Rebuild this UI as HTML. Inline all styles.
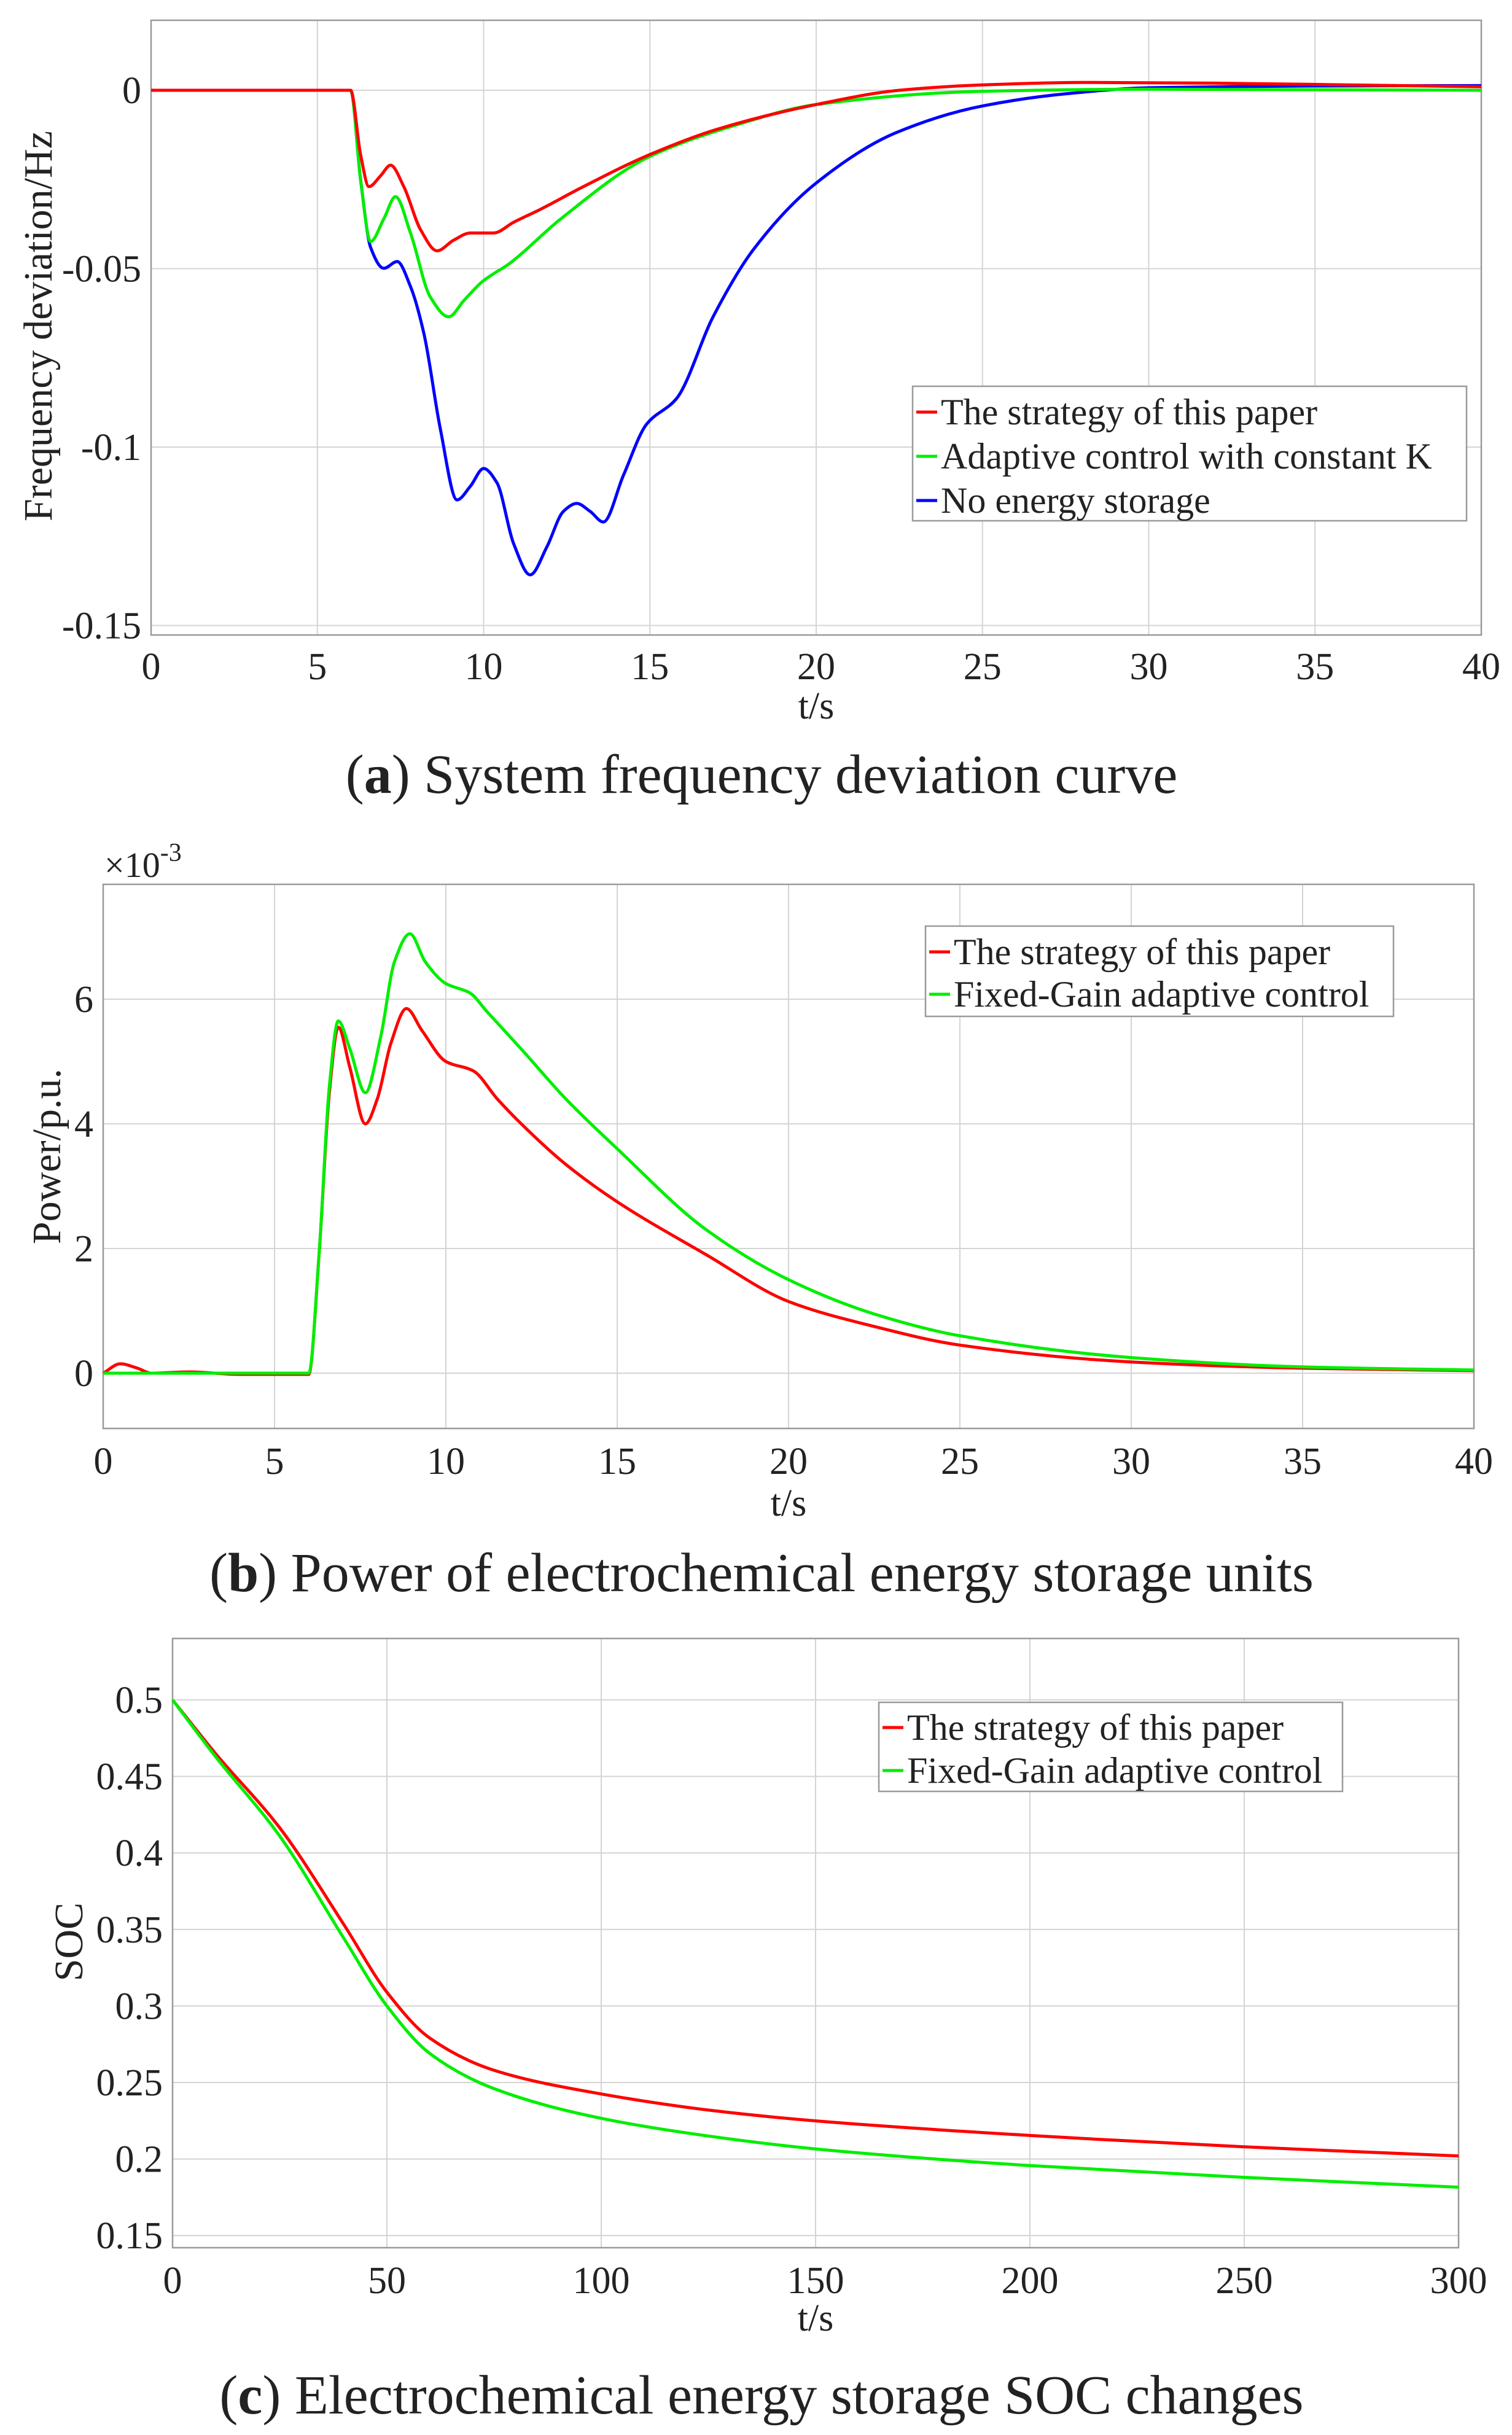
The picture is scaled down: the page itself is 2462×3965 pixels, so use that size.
<!DOCTYPE html>
<html><head><meta charset="utf-8"><style>
html,body{margin:0;padding:0;background:#fff;}
svg{display:block;}
text{font-family:"Liberation Serif","Times New Roman",serif;fill:#222;}
</style></head><body>
<svg id="fig" width="2462" height="3965" viewBox="0 0 2462 3965" xmlns="http://www.w3.org/2000/svg"></svg>
<script>
// ---------- Chart (a) data ----------
const aRedT=[0,6,6.3,6.55,6.9,7.2,7.6,8.1,8.6,9.1,9.6,10.3,10.9,11.7,13,15,17,20,22.5,25,28,32,36,40];
const aRedV=[0,0,-0.018,-0.027,-0.024,-0.021,-0.027,-0.039,-0.045,-0.042,-0.040,-0.040,-0.037,-0.0334,-0.027,-0.018,-0.011,-0.004,0,0.0015,0.0022,0.002,0.0015,0.001];
const aGreenT=[0,6,6.3,6.6,7,7.35,7.8,8.4,8.95,9.4,9.95,10.8,12.3,14.9,17.5,20,25,30,40];
const aGreenV=[0,0,-0.025,-0.0424,-0.036,-0.0298,-0.040,-0.058,-0.0635,-0.059,-0.0537,-0.0484,-0.0362,-0.019,-0.01,-0.004,-0.0003,0.0003,0];
const aBlueT=[0,6,6.3,6.6,7,7.4,7.8,8.2,8.7,9.2,9.6,10,10.4,10.9,11.4,11.9,12.4,12.8,13.2,13.6,14.2,14.9,15.8,16.9,18.1,20,22.4,25,27.5,30,35,40];
const aBlueV=[0,0,-0.025,-0.044,-0.0499,-0.048,-0.055,-0.068,-0.095,-0.1148,-0.111,-0.106,-0.110,-0.127,-0.1358,-0.128,-0.118,-0.1158,-0.118,-0.121,-0.108,-0.0936,-0.0864,-0.0635,-0.0448,-0.026,-0.0119,-0.0044,-0.001,0.0007,0.0012,0.0013];
const aXTicks=[0,5,10,15,20,25,30,35,40];
const aYTicks=[0,-0.05,-0.1,-0.15];
const aYLabels=["0","-0.05","-0.1","-0.15"];
const aLegend=["The strategy of this paper","Adaptive control with constant K","No energy storage"];
// ---------- Chart (b) data ----------
const bRedT=[0,0.5,1,1.4,2.5,4,6,6.3,6.6,6.86,7.2,7.65,8,8.4,8.85,9.3,10,10.8,11.5,12.2,13.5,15,17.6,20,22.5,25,30,35,40];
const bRedV=[0,0.15,0.08,0,0.02,-0.02,-0.02,1.9,4.5,5.55,4.9,4.0,4.4,5.3,5.85,5.5,5.0,4.85,4.4,4.0,3.35,2.75,1.9,1.15,0.75,0.45,0.18,0.08,0.04];
const bGreenT=[0,6,6.3,6.6,6.86,7.2,7.65,8.1,8.5,8.95,9.4,10,10.7,11.2,12.2,13.5,15,17.6,20,22.5,25,30,35,40];
const bGreenV=[0,0,1.9,4.6,5.65,5.2,4.5,5.4,6.6,7.05,6.6,6.25,6.1,5.8,5.2,4.4,3.6,2.3,1.5,0.95,0.6,0.25,0.1,0.05];
const bXTicks=[0,5,10,15,20,25,30,35,40];
const bYTicks=[0,2,4,6];
const bLegend=["The strategy of this paper","Fixed-Gain adaptive control"];
// ---------- Chart (c) data ----------
const cRedT=[0,10,25,40,50,60,75,100,125,150,200,250,300];
const cRedV=[0.5,0.465,0.4164,0.353,0.309,0.279,0.258,0.2425,0.232,0.2249,0.2154,0.208,0.202];
const cGreenT=[0,10,25,40,50,60,75,100,125,150,200,250,300];
const cGreenV=[0.5,0.463,0.411,0.344,0.300,0.269,0.246,0.2266,0.215,0.2066,0.1957,0.188,0.1816];
const cXTicks=[0,50,100,150,200,250,300];
const cYTicks=[0.5,0.45,0.4,0.35,0.3,0.25,0.2,0.15];
const cLegend=["The strategy of this paper","Fixed-Gain adaptive control"];

const NS="http://www.w3.org/2000/svg";
const svg=document.getElementById('fig');
function el(tag,attrs,parent){const e=document.createElementNS(NS,tag);for(const k in attrs)e.setAttribute(k,attrs[k]);(parent||svg).appendChild(e);return e;}
function txt(s,attrs,parent){const e=el('text',attrs,parent);e.textContent=s;return e;}

function monoPath(xs,ys){
  const n=xs.length;if(n<2)return '';
  const d=[],m=new Array(n);
  for(let i=0;i<n-1;i++)d.push((ys[i+1]-ys[i])/(xs[i+1]-xs[i]));
  m[0]=d[0];m[n-1]=d[n-2];
  for(let i=1;i<n-1;i++){if(d[i-1]*d[i]<=0)m[i]=0;else{const h0=xs[i]-xs[i-1],h1=xs[i+1]-xs[i];const w1=2*h1+h0,w2=h1+2*h0;m[i]=(w1+w2)/(w1/d[i-1]+w2/d[i]);}}
  let p='M'+xs[0].toFixed(1)+','+ys[0].toFixed(1);
  for(let i=0;i<n-1;i++){const h=(xs[i+1]-xs[i])/3;
    p+='C'+(xs[i]+h).toFixed(1)+','+(ys[i]+m[i]*h).toFixed(1)+' '+(xs[i+1]-h).toFixed(1)+','+(ys[i+1]-m[i+1]*h).toFixed(1)+' '+xs[i+1].toFixed(1)+','+ys[i+1].toFixed(1);}
  return p;
}

function chart(cfg){
  const g=el('g',{});
  
  
  const X=v=>cfg.L+(v-cfg.x0)/(cfg.x1-cfg.x0)*(cfg.R-cfg.L);
  const Y=v=>cfg.yRef+(v-cfg.vRef)*cfg.pxPer;
  const bg=el('rect',{x:cfg.L,y:cfg.T,width:cfg.R-cfg.L,height:cfg.B-cfg.T,fill:'#fff'},g);
  
  
  cfg.xt.forEach(v=>{const l=el('line',{x1:X(v),x2:X(v),y1:cfg.T,y2:cfg.B,stroke:'#d4d4d4','stroke-width':2},g);
    
    });
  cfg.yt.forEach(v=>{const l=el('line',{x1:cfg.L,x2:cfg.R,y1:Y(v),y2:Y(v),stroke:'#d4d4d4','stroke-width':2},g);
    
    });
  const fr=el('rect',{x:cfg.L,y:cfg.T,width:cfg.R-cfg.L,height:cfg.B-cfg.T,fill:'none',stroke:'#9a9a9a','stroke-width':2.5},g);
  
  
  cfg.xt.forEach(v=>{const t=txt(String(v),{x:X(v),y:cfg.xLabY,'font-size':62,'text-anchor':'middle'},g);
    
    });
  cfg.yt.forEach((v,i)=>{const t=txt(cfg.yl?cfg.yl[i]:String(v),{x:cfg.L-16,y:Y(v)+21,'font-size':62,'text-anchor':'end'},g);
    
    });
  const xt=txt('t/s',{x:(cfg.L+cfg.R)/2,y:cfg.xTitleY,'font-size':62,'text-anchor':'middle'},g);
  
  
  const yt=txt(cfg.ytitle,{x:0,y:0,'font-size':cfg.ytSize||62,'text-anchor':'middle',transform:'translate('+cfg.ytX+','+cfg.ytY+') rotate(-90)'},g);
  
  
  cfg.series.forEach(s=>{
    const p=el('path',{d:monoPath(s.t.map(X),s.v.map(Y)),fill:'none',stroke:s.c,'stroke-width':5,'stroke-linejoin':'round'},g);
    
    
  });
  const lg=el('g',{},g);
  
  
  const L=cfg.leg;
  el('rect',{x:L.x,y:L.y,width:L.w,height:L.h,fill:'#fff',stroke:'#9a9a9a','stroke-width':2.5},lg);
  cfg.legText.forEach((s,i)=>{
    const cy=L.rows[i];
    el('line',{x1:L.x+6,x2:L.x+40,y1:cy,y2:cy,stroke:cfg.legColors[i],'stroke-width':5},lg);
    const t=txt(s,{x:L.x+46,y:cy+20,'font-size':60},lg);
    
    
  });
  const cap=txt('',{x:cfg.capX,y:cfg.capY,'font-size':90,'text-anchor':'middle'},g);
  
  
  const t1=el('tspan',{},cap);t1.textContent='(';
  const t2=el('tspan',{'font-weight':'bold'},cap);t2.textContent=cfg.capLetter;
  const t3=el('tspan',{},cap);t3.textContent=') '+cfg.capText;
  return g;
}

chart({name:'chart-frequency-deviation',L:246,R:2412,T:33,B:1034,x0:0,x1:40,yRef:147,vRef:0,pxPer:-290.5/0.05,
  xt:aXTicks,yt:aYTicks,yl:aYLabels,xLabY:1106,xTitleY:1170,ytitle:'Frequency deviation/Hz',ytX:84,ytY:531,ytSize:66,
  series:[{name:'series-no-storage',t:aBlueT,v:aBlueV,c:'#0000ff'},{name:'series-constant-k',t:aGreenT,v:aGreenV,c:'#00ee00'},{name:'series-proposed',t:aRedT,v:aRedV,c:'#ff0000'}],
  leg:{x:1486,y:629,w:902,h:219,rows:[671,743,815]},legText:aLegend,legColors:['#ff0000','#00ee00','#0000ff'],
  capX:1240,capY:1291,capLetter:'a',capText:'System frequency deviation curve'});

chart({name:'chart-storage-power',L:168,R:2400,T:1440,B:2326,x0:0,x1:40,yRef:2236,vRef:0,pxPer:-101.5,
  xt:bXTicks,yt:bYTicks,xLabY:2400,xTitleY:2468,ytitle:'Power/p.u.',ytX:98,ytY:1883,ytSize:66,
  series:[{name:'series-proposed',t:bRedT,v:bRedV,c:'#ff0000'},{name:'series-fixed-gain',t:bGreenT,v:bGreenV,c:'#00ee00'}],
  leg:{x:1507,y:1508,w:762,h:147,rows:[1550,1619]},legText:bLegend,legColors:['#ff0000','#00ee00'],
  capX:1240,capY:2591,capLetter:'b',capText:'Power of electrochemical energy storage units'});
(function(){const t=txt('×10',{x:170,y:1428,'font-size':58});


const s=el('tspan',{dy:-26,'font-size':42},t);s.textContent='-3';})();

chart({name:'chart-soc',L:281,R:2375,T:2668,B:3660,x0:0,x1:300,yRef:2768,vRef:0.5,pxPer:-124.6/0.05,
  xt:cXTicks,yt:cYTicks,xLabY:3734,xTitleY:3795,ytitle:'SOC',ytX:134,ytY:3162,ytSize:66,
  series:[{name:'series-proposed',t:cRedT,v:cRedV,c:'#ff0000'},{name:'series-fixed-gain',t:cGreenT,v:cGreenV,c:'#00ee00'}],
  leg:{x:1431,y:2772,w:755,h:145,rows:[2813,2883]},legText:cLegend,legColors:['#ff0000','#00ee00'],
  capX:1240,capY:3930,capLetter:'c',capText:'Electrochemical energy storage SOC changes'});
</script>
</body></html>
